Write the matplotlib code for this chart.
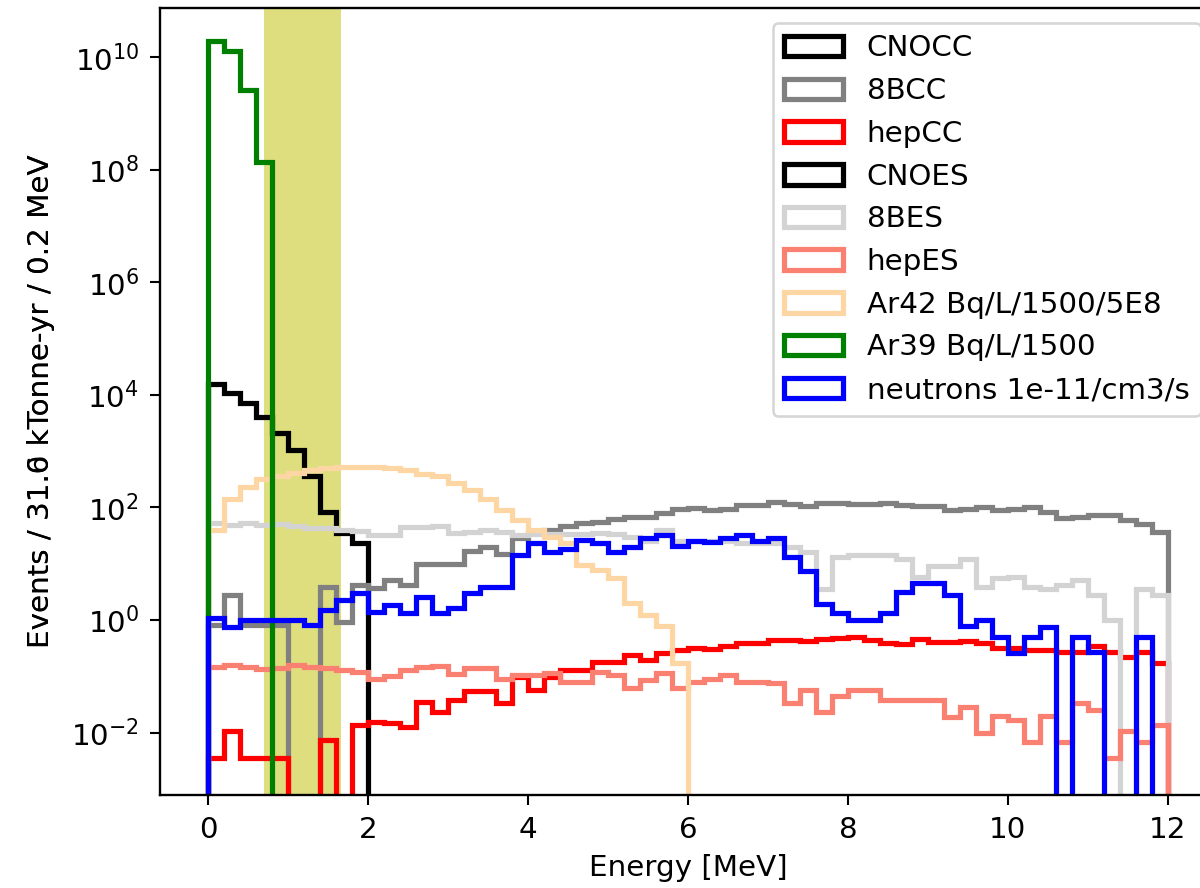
import numpy as np
import matplotlib
matplotlib.use("Agg")
import matplotlib.pyplot as plt
from matplotlib.ticker import NullLocator

# 0.2 MeV bins from 0 to 12 MeV
edges = np.round(np.arange(0, 12.01, 0.2), 2)

# events per bin
cno_cc = [15800, 10700, 7100, 4070, 2090, 1050, 355, 83, 35, 23] + [0] * 50
b8_cc = [0.8, 2.75, 0.8, 0.8, 0.8, 0, 0, 3.9, 0.91, 4.2,
         3.7, 5.1, 4.2, 10, 10, 10, 17, 20, 15, 28,
         35, 40, 47, 52, 56, 62, 68, 68, 80, 92,
         98, 91, 93, 112, 112, 126, 115, 105, 120, 120,
         115, 117, 120, 112, 107, 107, 89, 93, 102, 89,
         93, 102, 83, 65, 68, 72, 72, 60, 50, 37]
hep_cc = [3.5e-3, 1.05e-2, 3.5e-3, 3.5e-3, 3.5e-3, 0, 0, 7.4e-3, 0, 1.35e-2,
          1.55e-2, 1.5e-2, 1.26e-2, 3.5e-2, 2.3e-2, 3.8e-2, 5.4e-2, 5.4e-2, 3.3e-2, 9.8e-2,
          5.8e-2, 9.8e-2, 0.13, 0.13, 0.18, 0.18, 0.24, 0.195, 0.26, 0.295,
          0.316, 0.31, 0.34, 0.39, 0.39, 0.44, 0.44, 0.43, 0.46, 0.48,
          0.49, 0.44, 0.39, 0.37, 0.46, 0.40, 0.40, 0.43, 0.39, 0.32,
          0.32, 0.295, 0.29, 0.275, 0.275, 0.34, 0.275, 0.224, 0.275, 0.17]
cno_es = [0] * 60
b8_es = [52, 49, 52, 49, 50, 46, 43, 43, 40, 38,
         32, 32, 44, 44, 46, 35, 37, 40, 37, 32,
         33, 33, 33, 33, 35, 33, 30, 25, 40, 25,
         25, 25, 25, 23, 23, 23, 20, 16, 3.6, 13,
         14, 14, 14, 12, 5.8, 8.9, 8.9, 12, 3.9, 5.5,
         5.9, 3.9, 3.6, 4.2, 5.1, 2.8, 1.0, 0, 3.6, 2.8]
hep_es = [0.148, 0.158, 0.148, 0.132, 0.138, 0.158, 0.148, 0.138, 0.129, 0.12,
          0.091, 0.10, 0.13, 0.148, 0.155, 0.11, 0.138, 0.138, 0.091, 0.105,
          0.105, 0.112, 0.079, 0.079, 0.12, 0.105, 0.062, 0.085, 0.112, 0.062,
          0.079, 0.088, 0.105, 0.079, 0.079, 0.075, 0.034, 0.056, 0.023, 0.044,
          0.056, 0.056, 0.038, 0.038, 0.038, 0.038, 0.019, 0.028, 0.0098, 0.020,
          0.0166, 0.0069, 0.020, 0.0069, 0.033, 0.025, 0.0035, 0.0105, 0.0069, 0.0135]
ar42 = [40, 141, 234, 316, 355, 407, 468, 501, 525, 525,
        525, 501, 457, 398, 355, 269, 200, 141, 89, 59,
        40, 30, 23, 9.5, 7.8, 5.6, 2.0, 1.23, 0.78, 0.174] + [0] * 30
ar39 = [1.9e10, 1.26e10, 2.6e9, 1.38e8] + [0] * 56
neutrons = [1.07, 0.76, 1.0, 1.0, 1.0, 1.0, 0.8, 1.48, 2.3, 2.95,
            1.38, 1.86, 1.32, 2.6, 1.32, 1.62, 3.0, 3.9, 3.9, 14.5,
            23, 16, 18, 26, 23, 16, 20, 28, 32, 21,
            25, 24, 29, 32, 25, 29, 12.9, 7.4, 1.9, 1.32,
            1.0, 1.0, 1.32, 3.2, 4.6, 4.6, 2.8, 0.79, 1.0, 0.5,
            0.26, 0.5, 0.76, 0, 0.5, 0.275, 0, 0, 0.5, 0]

labels = ["CNOCC", "8BCC", "hepCC", "CNOES", "8BES", "hepES",
          "Ar42 Bq/L/1500/5E8", "Ar39 Bq/L/1500", "neutrons 1e-11/cm3/s"]
series = [cno_cc, b8_cc, hep_cc, cno_es, b8_es, hep_es, ar42, ar39, neutrons]
colors = ["black", "gray", "red", "black", "lightgray", "salmon",
          "#fdd6a3", "green", "blue"]

# window shaded in the plot
band = (0.7, 1.66)


def main():
    plt.rcParams.update({
        "font.size": 11.3,
        "xtick.major.size": 4, "ytick.major.size": 4,
        "xtick.major.pad": 4, "ytick.major.pad": 4,
        "axes.linewidth": 0.9,
    })
    fig = plt.figure(figsize=(6.4, 4.736), dpi=187.5)
    ax = fig.add_axes([0.1333, 0.1047, 0.88, 0.8863])

    ax.axvspan(band[0], band[1], color="y", alpha=0.5, lw=0)

    centers = (edges[:-1] + edges[1:]) / 2
    for vals, lab, col in zip(series, labels, colors):
        ax.hist(centers, bins=edges, weights=vals, histtype="step",
                color=col, lw=2, label=lab)

    ax.set_yscale("log")
    ax.set_xlim(-0.6, 12.6)
    ax.set_ylim(10 ** -3.11, 10 ** 10.87)
    ax.set_yticks([1e-2, 1e0, 1e2, 1e4, 1e6, 1e8, 1e10])
    ax.yaxis.set_minor_locator(NullLocator())

    ax.set_xlabel("Energy [MeV]")
    # two labels drawn on top of each other, as in the original
    ylab = "Events / 31.0 kTonne-yr / 0.2 MeV"
    ylab2 = "Events / 31.6 kTonne-yr / 0.2 MeV"
    ax.set_ylabel(ylab)
    ax.yaxis.set_label_coords(-0.099, 0.5)
    ax.text(-0.099, 0.5, ylab2, transform=ax.transAxes, rotation=90,
            ha="center", va="bottom", rotation_mode="anchor")

    ax.legend(loc="upper right")

    fig.savefig("out.png", dpi=187.5)


if __name__ == "__main__":
    main()
